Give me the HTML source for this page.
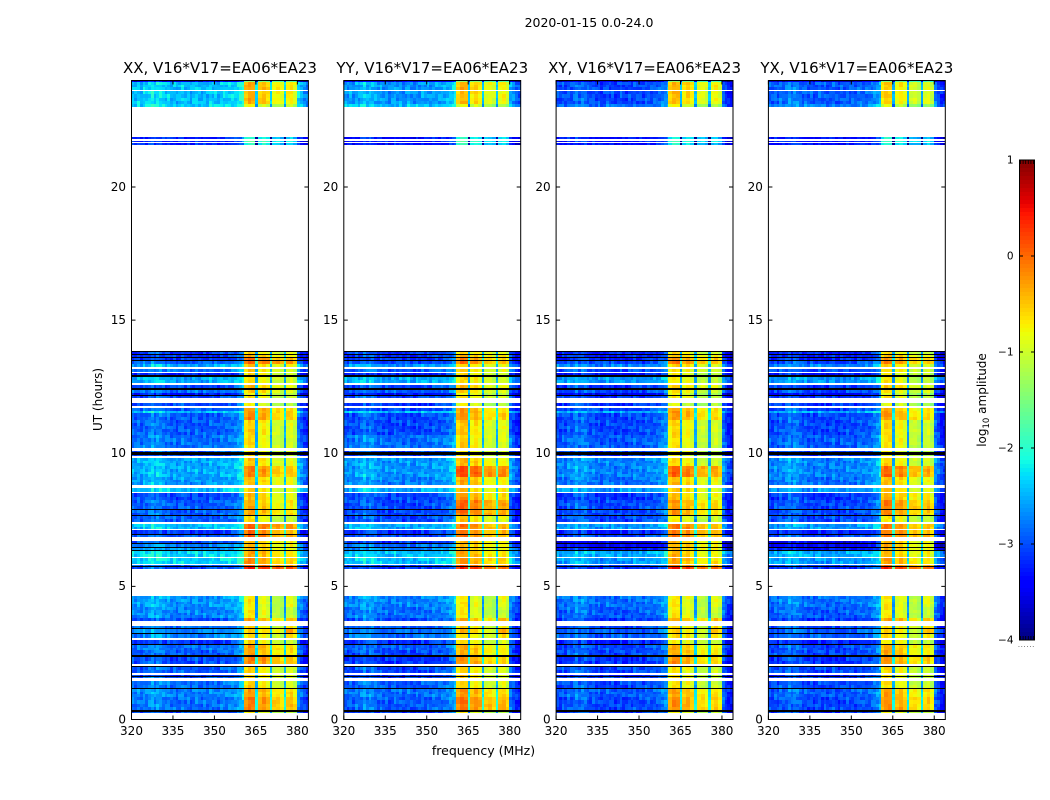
<!DOCTYPE html>
<html lang="en">
<head>
<meta charset="utf-8">
<title>2020-01-15 0.0-24.0</title>
<style>
html,body{margin:0;padding:0;background:#fff;width:1050px;height:800px;overflow:hidden}
svg{display:block}
text{font-family:"DejaVu Sans","Liberation Sans",sans-serif;fill:#000}
</style>
</head>
<body>
<svg id="chart" xmlns="http://www.w3.org/2000/svg" width="1050" height="800" viewBox="0 0 1050 800">
  <rect x="0" y="0" width="1050" height="800" fill="#fff"/>
  <text x="589" y="27" font-size="12.5" text-anchor="middle">2020-01-15 0.0-24.0</text>
  <text x="483.5" y="755" font-size="12.5" text-anchor="middle">frequency (MHz)</text>
  <text x="0" y="0" font-size="12" text-anchor="middle" transform="translate(102 399.5) rotate(-90)">UT (hours)</text>
  <text x="0" y="0" font-size="12" text-anchor="middle" transform="translate(986 400) rotate(-90)">log<tspan font-size="8.5" dy="3">10</tspan><tspan dy="-3"> amplitude</tspan></text>
  <g id="panels"></g>
  <g id="colorbar"></g>
</svg>
<script>
const panelNames = ['XX', 'YY', 'XY', 'YX'];
const panelBaseline = 'V16*V17=EA06*EA23';
const xTickValues = [320, 335, 350, 365, 380];
const yTickValues = [0, 5, 10, 15, 20];
const colorbarTickValues = [-4, -3, -2, -1, 0, 1];

/* UT row edges (hours), descending */
const rowEdges = [24,23.93,23.63,23.59,23.10,23.02,21.86,21.80,21.74,21.69,21.65,21.59,13.84,13.81,13.73,13.69,13.62,13.58,13.51,13.47,
13.36,13.24,13.17,13.05,13.02,12.94,12.88,12.62,12.57,12.45,12.38,12.26,12.19,12.15,12.08,11.89,11.78,11.70,11.59,11.53,
11.25,10.68,10.20,10.08,10.04,9.95,9.91,9.82,9.52,9.10,8.80,8.69,8.54,8.50,8.24,7.90,7.86,7.69,7.66,7.41,
7.35,7.15,7.11,6.96,6.92,6.85,6.70,6.62,6.58,6.49,6.45,6.36,6.32,6.09,6.06,5.85,5.81,5.76,5.72,5.64,
4.63,4.21,3.80,3.69,3.50,3.42,3.39,3.24,3.20,3.05,2.97,2.82,2.78,2.60,2.41,2.35,2.07,2.01,1.96,1.73,
1.67,1.62,1.58,1.54,1.43,1.17,1.13,0.83,0.34,0.30,0.24,0];
/* d = data, w = missing (white), k = flagged (black) */
const rowKinds = 'ddwddwdwdw' + 'dwkdkdkdkd' + 'dwdwdkdwdk' + 'ddkdwdwddd' + 'ddwdkdwddd' + 'wdwddkdkdw' + 'dwdkdwdkdk' + 'dkdwdwdkdw' + 'dddwdkdkdw' + 'dkddkdwkdw' + 'dkdwdkddkd' + 'w';

/* frequency channels (MHz edges) and per-channel log10 offsets */
const channelEdges = [320,321,322,323,324,325,326,327,328,329,330,331,332,333,334,335,336,337,338,339,340,341,342,343,344,345,346,347,348,349,350,351,352,353,354,355,356,357,358,359,360,
360.6,362,363.4,364.8,365.7,367.1,368.6,370,370.9,372.3,373.7,375.1,375.9,377.2,378.6,379.9,381,382,383,384];
const channelOffsets = [
0.0,-0.1,0.05,-0.1,0.1,0.0,0.1,0.25,0.05,0.2,
0.15,0.05,-0.05,0.05,-0.1,0.0,-0.15,-0.05,0.05,-0.1,
0.0,-0.15,-0.05,0.05,-0.1,-0.15,0.0,-0.1,0.05,-0.05,
0.0,-0.1,0.05,0.05,0.0,0.05,0.05,0.1,0.2,0.3,
0.45,
0.1,0.3,0.25,-1.7,
0.0,0.15,-0.05,-1.7,
-0.2,-0.15,-0.3,-1.7,
-0.15,-0.05,-0.3,
0.1,-0.1,-0.3,-0.4];
const bandLowMHz = 360.6;
const bandHighMHz = 379.9;
const band4LowMHz = 375.9;

/* small-scale scintillation residuals read as typical spread, tiled across cells */
const fineTexture = [0.13,-0.1,0.03,-0.15,0.18,-0.03,-0.13,0.08,-0.05,0.2,-0.15,0.0,0.1,-0.08,-0.18,0.15,0.05,-0.1,0.23,-0.05,-0.15,0.05,-0.03];

/* log10 amplitude per data row: background (320-360, 380-384 MHz) */
const xxBackground = [-3.5,-2.4,-2.4,-2.3,-3.2,-3.2,-3.2,-3.1,-3.1,-3.1,
-2.9,-2.5,-2.8,-3.2,-2.5,-3.0,-2.8,-3.3,-3.0,-3.0,
-2.9,-2.4,-2.9,-2.9,-2.8,-2.9,-3.0,-2.5,-2.5,-2.6,
-2.4,-3.0,-2.9,-2.9,-2.9,-2.4,-3.1,-2.9,-3.0,-2.7,
-2.6,-2.3,-2.3,-2.9,-3.0,-2.6,-2.7,-3.0,-2.8,-2.7,
-2.7,-3.1,-2.8,-2.9,-3.0,-2.9,-3.1,-2.9,-2.8,-2.7,
-2.8,-3.0];
const yyBackground = [-3.5,-2.6,-2.6,-2.4,-3.3,-3.3,-3.3,-3.1,-3.1,-3.1,
-3.0,-2.6,-2.9,-3.2,-2.5,-3.0,-2.9,-3.3,-3.0,-3.1,
-3.0,-2.4,-3.0,-3.0,-2.8,-3.0,-3.0,-2.6,-2.6,-2.7,
-2.5,-3.0,-3.0,-3.0,-3.0,-2.5,-3.1,-3.0,-3.1,-2.8,
-2.7,-2.4,-2.4,-3.0,-3.1,-2.7,-2.8,-3.0,-2.9,-2.8,
-2.8,-3.1,-2.9,-3.0,-3.1,-3.0,-3.1,-3.0,-2.9,-2.8,
-2.9,-3.1];
const xyBackground = [-3.6,-3.0,-3.0,-2.8,-3.3,-3.3,-3.3,-3.2,-3.2,-3.2,
-3.0,-2.7,-3.0,-3.3,-2.6,-3.1,-3.0,-3.4,-3.1,-3.1,
-3.0,-2.5,-3.0,-3.0,-2.9,-3.0,-3.1,-2.7,-2.7,-2.8,
-2.6,-3.1,-3.0,-3.0,-3.0,-2.6,-3.2,-3.0,-3.5,-3.4,
-3.3,-2.5,-2.6,-3.0,-3.1,-2.8,-2.9,-3.1,-3.0,-2.9,
-2.9,-3.2,-3.0,-3.0,-3.1,-3.0,-3.2,-3.0,-3.0,-2.9,
-3.0,-3.1];
const yxBackground = [-3.6,-2.9,-2.9,-2.7,-3.3,-3.3,-3.3,-3.2,-3.2,-3.2,
-3.0,-2.7,-3.0,-3.3,-2.6,-3.1,-3.0,-3.4,-3.1,-3.1,
-3.0,-2.5,-3.0,-3.0,-2.9,-3.0,-3.1,-2.7,-2.7,-2.8,
-2.6,-3.1,-3.0,-3.0,-3.0,-2.6,-3.2,-3.0,-3.5,-3.4,
-3.3,-2.5,-2.6,-3.0,-3.1,-2.8,-2.9,-3.1,-3.0,-2.9,
-2.9,-3.2,-3.0,-3.0,-3.1,-3.0,-3.2,-3.0,-3.0,-2.9,
-3.0,-3.1];

/* log10 amplitude per data row: in-band (360.6-379.9 MHz) */
const xxBand = [-1.6,-0.55,-0.6,-1.0,-2.2,-2.0,-2.2,-0.8,-0.6,-0.3,
-0.15,-0.7,-0.75,-0.85,-0.85,-0.65,-0.75,-1.0,-0.85,-1.0,
-0.5,-0.45,-0.4,-0.8,-0.85,-0.9,-0.9,-0.75,-0.35,-0.7,
-0.75,-0.7,-0.6,-0.55,-0.9,-0.15,-0.25,-0.2,-0.65,-0.65,
-0.65,-0.55,-0.4,-0.2,0.25,-0.95,-0.95,-0.5,-0.85,-0.7,
-0.85,-0.85,-0.5,-0.55,-0.35,-0.8,-0.8,-0.8,-0.8,-0.5,
-0.35,-1.0];
const yyBand = [-1.6,-0.65,-0.7,-1.1,-2.2,-2.0,-2.2,-0.8,-0.6,-0.4,
-0.3,-0.8,-0.75,-0.85,-0.85,-0.65,-0.75,-1.0,-0.85,-1.0,
-0.55,-0.5,-0.45,-0.75,-0.8,-0.9,-0.9,-0.65,-0.05,-0.6,
-0.65,-0.5,-0.2,-0.25,-0.75,-0.3,-0.3,-0.3,-0.65,-0.65,
-0.65,-0.55,-0.45,-0.2,0.15,-0.95,-0.95,-0.55,-0.85,-0.7,
-0.85,-0.85,-0.6,-0.6,-0.45,-0.8,-0.8,-0.8,-0.8,-0.5,
-0.3,-1.0];
const xyBand = [-1.7,-0.65,-0.7,-1.1,-2.3,-2.1,-2.3,-0.9,-0.7,-0.45,
-0.3,-0.8,-0.85,-0.95,-0.95,-0.75,-0.85,-1.1,-0.95,-1.1,
-0.55,-0.5,-0.5,-0.85,-0.9,-1.0,-1.0,-0.85,-0.2,-0.7,
-0.75,-0.7,-0.5,-0.5,-0.95,-0.3,-0.3,-0.3,-0.65,-0.65,
-0.65,-0.65,-0.55,-0.3,0.15,-0.95,-0.95,-0.55,-0.85,-0.8,
-0.85,-0.95,-0.6,-0.6,-0.45,-0.9,-0.9,-0.9,-0.9,-0.55,
-0.45,-1.0];
const yxBand = [-1.7,-0.8,-0.8,-1.2,-2.3,-2.1,-2.3,-0.9,-0.7,-0.45,
-0.35,-0.8,-0.85,-0.95,-0.95,-0.75,-0.85,-1.1,-0.95,-1.1,
-0.6,-0.5,-0.5,-0.85,-0.9,-1.0,-1.0,-0.85,-0.25,-0.7,
-0.75,-0.6,-0.35,-0.4,-0.95,-0.3,-0.35,-0.3,-0.65,-0.65,
-0.65,-0.65,-0.55,-0.3,0.15,-0.95,-0.95,-0.55,-0.85,-0.8,
-0.85,-0.95,-0.6,-0.6,-0.45,-0.9,-0.9,-0.9,-0.9,-0.55,
-0.45,-1.0];
/* extra log10 excess in the 376-380 MHz window per data row */
const band4Adjust = [0,0,0,0,0,0,0,0,0,0,
0,0,0,0,0,0,0,0,0,0,
0,0,0,0,0,0,0,0,0,0,
0,0,0,0,0,0,0,0,0,0,
0,0,0,0,0,0.2,0,0.2,0.3,0.5,
0.3,0,0,0,0,0,0,0,0,0,
0,0];

const backgroundByPanel = [xxBackground, yyBackground, xyBackground, yxBackground];
const bandByPanel = [xxBand, yyBand, xyBand, yxBand];

const SVGNS = 'http://www.w3.org/2000/svg';
const AXIS_TOP = 80.5, AXIS_BOTTOM = 719.5, AXIS_WIDTH = 176.9;
const PANEL_LEFT = 131.5, PANEL_STEP = 212.3;
const CBAR_X = 1019, CBAR_W = 16, CBAR_TOP = 160, CBAR_BOTTOM = 640;
const SUBROW_PX = 3;

function el(tag, attrs, parent) {
  const node = document.createElementNS(SVGNS, tag);
  for (const k in attrs) node.setAttribute(k, attrs[k]);
  parent.appendChild(node);
  return node;
}
function yScale(h) { return AXIS_BOTTOM - h * (AXIS_BOTTOM - AXIS_TOP) / 24; }
function xScale(left, f) { return left + (f - 320) * AXIS_WIDTH / 64; }
function clamp01(v) { return Math.max(0, Math.min(1, v)); }
function jet(v) {
  const t = clamp01((v + 4) / 5);
  const r = t < 0.35 ? 0 : t < 0.66 ? (t - 0.35) / 0.31 : t < 0.89 ? 1 : 1 - 0.5 * (t - 0.89) / 0.11;
  const g = t < 0.125 ? 0 : t < 0.375 ? (t - 0.125) / 0.25 : t < 0.64 ? 1 : t < 0.91 ? 1 - (t - 0.64) / 0.27 : 0;
  const b = t < 0.11 ? 0.5 + 0.5 * t / 0.11 : t < 0.34 ? 1 : t < 0.65 ? 1 - (t - 0.34) / 0.31 : 0;
  return 'rgb(' + Math.round(r * 255) + ',' + Math.round(g * 255) + ',' + Math.round(b * 255) + ')';
}

const panelsRoot = document.getElementById('panels');
panelNames.forEach(function (name, p) {
  const left = PANEL_LEFT + p * PANEL_STEP;
  const key = name.toLowerCase();
  const g = el('g', {}, panelsRoot);
  
  

  const heat = el('g', { 'shape-rendering': 'crispEdges' }, g);
  
  

  const bg = backgroundByPanel[p];
  const band = bandByPanel[p];
  let dataIndex = 0;
  let subIndex = p * 3;
  for (let r = 0; r < rowKinds.length; r++) {
    const kind = rowKinds[r];
    const y0 = Math.round(yScale(rowEdges[r]));
    const y1 = Math.max(y0 + 1, Math.round(yScale(rowEdges[r + 1])));
    if (kind === 'w') continue;
    if (kind === 'k') {
      const flagged = el('rect', { x: Math.round(left), y: y0, width: Math.round(AXIS_WIDTH), height: y1 - y0, fill: '#000' }, heat);
      
      
      continue;
    }
    const nSub = Math.max(1, Math.round((y1 - y0) / SUBROW_PX));
    for (let s = 0; s < nSub; s++) {
      const sy0 = y0 + Math.round(s * (y1 - y0) / nSub);
      const sy1 = y0 + Math.round((s + 1) * (y1 - y0) / nSub);
      for (let c = 0; c < channelOffsets.length; c++) {
        const f0 = channelEdges[c], f1 = channelEdges[c + 1], mid = (f0 + f1) / 2;
        const inBand = mid > bandLowMHz && mid < bandHighMHz;
        const tex = fineTexture[(subIndex * 5 + c * 3) % fineTexture.length];
        let level;
        if (inBand) {
          level = band[dataIndex] + channelOffsets[c] + tex * 0.5;
          if (mid > band4LowMHz) level += band4Adjust[dataIndex];
        } else {
          level = bg[dataIndex] + channelOffsets[c] + tex;
        }
        const x0 = Math.round(xScale(left, f0));
        const x1 = Math.round(xScale(left, f1));
        const cell = el('rect', { x: x0, y: sy0, width: x1 - x0, height: sy1 - sy0, fill: jet(level) }, heat);
        
        
      }
      subIndex++;
    }
    dataIndex++;
  }

  const frame = el('rect', { x: left, y: AXIS_TOP, width: AXIS_WIDTH, height: AXIS_BOTTOM - AXIS_TOP, fill: 'none', stroke: '#000', 'stroke-width': 1 }, g);
  
  

  const title = el('text', { x: left + AXIS_WIDTH / 2, y: 73, 'font-size': 15, 'text-anchor': 'middle' }, g);
  title.textContent = name + ', ' + panelBaseline;
  
  

  xTickValues.forEach(function (v) {
    const x = xScale(left, v);
    const tb = el('line', { x1: x, x2: x, y1: AXIS_BOTTOM, y2: AXIS_BOTTOM - 4, stroke: '#000', 'stroke-width': 1 }, g);
    
    
    const tt = el('line', { x1: x, x2: x, y1: AXIS_TOP, y2: AXIS_TOP + 4, stroke: '#000', 'stroke-width': 1 }, g);
    
    
    const lab = el('text', { x: x, y: 735, 'font-size': 12, 'text-anchor': 'middle' }, g);
    lab.textContent = String(v);
    
    
  });
  yTickValues.forEach(function (v) {
    const y = yScale(v);
    const tl = el('line', { x1: left, x2: left + 4, y1: y, y2: y, stroke: '#000', 'stroke-width': 1 }, g);
    
    
    const tr = el('line', { x1: left + AXIS_WIDTH, x2: left + AXIS_WIDTH - 4, y1: y, y2: y, stroke: '#000', 'stroke-width': 1 }, g);
    
    
    const lab = el('text', { x: left - 5.5, y: y + 3.8, 'font-size': 12, 'text-anchor': 'end' }, g);
    lab.textContent = String(v);
    
    
  });
});

/* colorbar */
const cbarRoot = document.getElementById('colorbar');
function cbarY(v) { return CBAR_BOTTOM - (v + 4) * (CBAR_BOTTOM - CBAR_TOP) / 5; }
const cbarRamp = el('g', { 'shape-rendering': 'crispEdges' }, cbarRoot);


for (let i = 0; i < 120; i++) {
  const v0 = -4 + i * 5 / 120, v1 = -4 + (i + 1) * 5 / 120;
  const yTop = Math.round(cbarY(v1)), yBot = Math.round(cbarY(v0));
  const seg = el('rect', { x: CBAR_X, y: yTop, width: CBAR_W, height: yBot - yTop, fill: jet((v0 + v1) / 2) }, cbarRamp);
  
  
}
const cbarFrame = el('rect', { x: CBAR_X + 0.5, y: CBAR_TOP, width: CBAR_W - 1, height: CBAR_BOTTOM - CBAR_TOP, fill: 'none', stroke: '#000', 'stroke-width': 1 }, cbarRoot);


colorbarTickValues.forEach(function (v) {
  const y = cbarY(v);
  const a = el('line', { x1: CBAR_X, x2: CBAR_X + 4, y1: y, y2: y, stroke: '#000', 'stroke-width': 1 }, cbarRoot);
  
  
  const b = el('line', { x1: CBAR_X + CBAR_W, x2: CBAR_X + CBAR_W - 4, y1: y, y2: y, stroke: '#000', 'stroke-width': 1 }, cbarRoot);
  
  
  const lab = el('text', { x: 1013.5, y: y + 3.5, 'font-size': 10.5, 'text-anchor': 'end' }, cbarRoot);
  lab.textContent = String(v).replace('-', '\u2212');
  
  
});
[0, 0.2, 0.4, 0.6, 0.8, 1].forEach(function (fr) {
  const x = CBAR_X + 1.5 + fr * (CBAR_W - 3);
  const top = el('line', { x1: x, x2: x, y1: CBAR_TOP, y2: CBAR_TOP + 4, stroke: '#000', 'stroke-width': 0.8 }, cbarRoot);
  
  
  const bot = el('line', { x1: x, x2: x, y1: CBAR_BOTTOM, y2: CBAR_BOTTOM - 4, stroke: '#000', 'stroke-width': 0.8 }, cbarRoot);
  
  
});
const cbarDots = el('text', { x: CBAR_X - 1, y: 647, 'font-size': 6, 'letter-spacing': 0.95, fill: '#555' }, cbarRoot);
cbarDots.textContent = '......';


</script>
</body>
</html>
